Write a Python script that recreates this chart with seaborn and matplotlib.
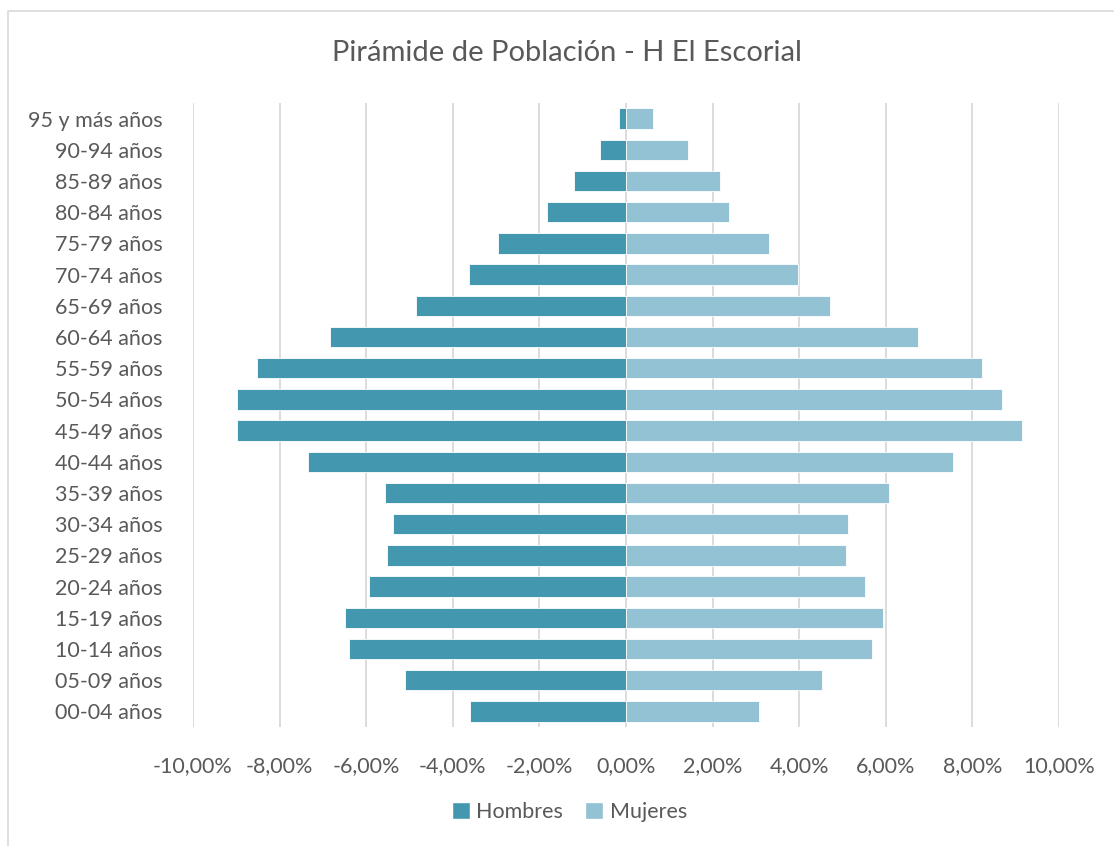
import numpy as np
import pandas as pd
import matplotlib
matplotlib.use('Agg')
import matplotlib.pyplot as plt
import seaborn as sns
from matplotlib.patches import Patch, Rectangle
from matplotlib.ticker import FuncFormatter

grupos = ['95 y más años', '90-94 años', '85-89 años', '80-84 años', '75-79 años',
          '70-74 años', '65-69 años', '60-64 años', '55-59 años', '50-54 años',
          '45-49 años', '40-44 años', '35-39 años', '30-34 años', '25-29 años',
          '20-24 años', '15-19 años', '10-14 años', '05-09 años', '00-04 años']
hombres = [0.17, 0.60, 1.21, 1.82, 2.96, 3.62, 4.85, 6.84, 8.52, 8.99,
           8.98, 7.34, 5.57, 5.37, 5.51, 5.94, 6.49, 6.40, 5.10, 3.60]
mujeres = [0.63, 1.43, 2.16, 2.37, 3.31, 3.97, 4.71, 6.74, 8.23, 8.69,
           9.15, 7.55, 6.08, 5.12, 5.08, 5.52, 5.94, 5.68, 4.53, 3.08]
xticks = [-10, -8, -6, -4, -2, 0, 2, 4, 6, 8, 10]

col_h = '#4398B0'
col_m = '#92C2D4'
gris = '#595959'

df = pd.DataFrame({'grupo': grupos, 'Hombres': [-v for v in hombres], 'Mujeres': mujeres})

sns.set_style('white')
plt.rcParams['font.family'] = ['Lato', 'DejaVu Sans']

fig = plt.figure(figsize=(11.14, 8.46), dpi=100)
ax = fig.add_axes([193 / 1114, 1 - 727 / 846, 866 / 1114, 624 / 846])

# lineas de cuadricula detras de las barras
ax.set_axisbelow(True)
ax.grid(axis='x', color='#D9D9D9', linewidth=1.3)

sns.barplot(data=df, x='Hombres', y='grupo', order=grupos, color=col_h, orient='h',
            width=0.66, edgecolor='white', linewidth=0.6, saturation=1, ax=ax)
sns.barplot(data=df, x='Mujeres', y='grupo', order=grupos, color=col_m, orient='h',
            width=0.66, edgecolor='white', linewidth=0.6, saturation=1, ax=ax)

ax.set_xlim(-10, 10)
ax.set_ylim(len(grupos) - 0.5, -0.5)
ax.set_xticks(xticks)
ax.xaxis.set_major_formatter(FuncFormatter(lambda v, p: ('%.2f%%' % v).replace('.', ',').replace('-0,00', '0,00')))
ax.set_xlabel('')
ax.set_ylabel('')
ax.tick_params(axis='both', length=0, labelsize=15.5, colors=gris)
ax.tick_params(axis='x', pad=21)
ax.tick_params(axis='y', pad=22)
for s in ax.spines.values():
    s.set_visible(False)

fig.text(0.509, 1 - 53 / 846, 'Pirámide de Población - H El Escorial', ha='center', va='center',
         fontsize=21, color=gris)

handles = [Patch(facecolor=col_h, label='Hombres'), Patch(facecolor=col_m, label='Mujeres')]
fig.legend(handles=handles, loc='center', bbox_to_anchor=(0.511, 1 - 812 / 846), ncol=2,
           frameon=False, fontsize=15.5, labelcolor=gris, handlelength=0.85, handleheight=0.85,
           handletextpad=0.3, columnspacing=1.0)

# borde del area del grafico
fig.patches.append(Rectangle((8 / 1114, -0.1), 1.2, 1 - 11 / 846 + 0.1, transform=fig.transFigure,
                             fill=False, edgecolor='#D9D9D9', linewidth=1.2))

fig.savefig('out.png', dpi=100, facecolor='white')
